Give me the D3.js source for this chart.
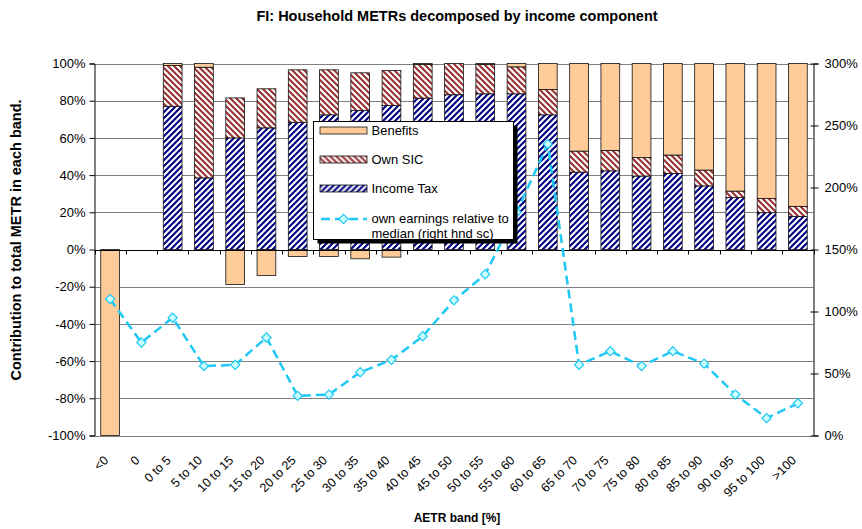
<!DOCTYPE html>
<html><head><meta charset="utf-8">
<script src="https://cdn.jsdelivr.net/npm/d3@7"></script>
<style>body{margin:0;background:#fff} text{font-family:"Liberation Sans",Arial,sans-serif;fill:#000}</style>
</head><body><svg id="c" width="862" height="529"></svg>
<script>
const categories = ["<0","0","0 to 5","5 to 10","10 to 15","15 to 20","20 to 25","25 to 30","30 to 35","35 to 40","40 to 45","45 to 50","50 to 55","55 to 60","60 to 65","65 to 70","70 to 75","75 to 80","80 to 85","85 to 90","90 to 95","95 to 100",">100"];
const incomeTax = [0,0,77,38.5,60,65.4,68.4,72.4,74.7,77.4,81.4,83.2,83.7,83.7,72.4,41.6,42.3,39.5,40.9,34.2,27.9,19.8,17.8];
const ownSIC    = [0,0,21.9,59.5,21.5,21,28.2,24.2,20.3,18.8,18.1,16.8,15.8,14.5,13.6,11.3,10.9,9.9,9.9,8.5,3.5,7.6,5.4];
const benefits  = [-100,0,1.1,2,-18.8,-14,-3.8,-3.8,-5,-4.1,0.5,0,0.5,1.8,14,47.1,46.8,50.6,49.2,57.3,68.6,72.6,76.8];
const earnings  = [110,75,95,56,57,79,32,33,51,61,80,109,130,180,235,57,68,56,68,58,33,14,26];
const leftTicks = [-100,-80,-60,-40,-20,0,20,40,60,80,100];
const rightTicks = [0,50,100,150,200,250,300];
const seriesNames = ["Benefits","Own SIC","Income Tax","own earnings relative to median (right hnd sc)"];

const svg = d3.select("#c");
const L = 94.5, R = 813.5, T = 63.5, B = 435.5;

const x = d3.scaleBand().domain(categories).range([L, R]).paddingInner(0.4).paddingOuter(0.2);
const y = d3.scaleLinear().domain([-100, 100]).range([B, T]);
const y2 = d3.scaleLinear().domain([0, 300]).range([B, T]);

// patterns
const defs = svg.append("defs");
function hatch(id, color, dir) {
  const p = defs.append("pattern").attr("id", id).attr("patternUnits", "userSpaceOnUse")
    .attr("width", 6).attr("height", 6);
  p.append("rect").attr("width", 6).attr("height", 6).attr("fill", "#fff");
  const d = dir === "/" ? "M-1,1 l2,-2 M0,6 l6,-6 M5,7 l2,-2" : "M-1,5 l2,2 M0,0 l6,6 M5,-1 l2,2";
  p.append("path").attr("d", d).attr("stroke", color).attr("stroke-width", 2.1);
}
hatch("itH", "#000080", "/");
hatch("sicH", "#993333", "\\");

// gridlines
svg.append("g").selectAll("line").data(leftTicks).join("line")
  .attr("x1", L).attr("x2", R)
  .attr("y1", d => Math.round(y(d)) + 0.5).attr("y2", d => Math.round(y(d)) + 0.5)
  .attr("stroke", "#808080").attr("stroke-width", 1);

// stacked bars
const rows = categories.map((c, i) => ({cat: c, it: incomeTax[i], sic: ownSIC[i], ben: benefits[i]}));
const stack = d3.stack().keys(["it", "sic", "ben"]).offset(d3.stackOffsetDiverging)(rows);
const fills = {it: "url(#itH)", sic: "url(#sicH)", ben: "#FFCC99"};
svg.append("g").selectAll("g").data(stack).join("g")
  .attr("fill", d => fills[d.key])
  .selectAll("rect").data(d => d.filter(s => Math.abs(s[1] - s[0]) > 0.01)).join("rect")
  .attr("x", d => x(d.data.cat))
  .attr("width", x.bandwidth())
  .attr("y", d => y(Math.max(d[0], d[1])))
  .attr("height", d => Math.abs(y(d[0]) - y(d[1])))
  .attr("stroke", "#111").attr("stroke-width", 0.8);

// axes
const xAxis = svg.append("g").attr("transform", `translate(0,${Math.round(y(0)) + 0.5})`);
xAxis.append("line").attr("x1", L).attr("x2", R).attr("stroke", "#000");
const bounds = d3.range(categories.length + 1).map(i => L + i * x.step());
xAxis.selectAll(".tk").data(bounds).join("line").attr("class", "tk")
  .attr("x1", d => Math.round(d) + 0.5).attr("x2", d => Math.round(d) + 0.5)
  .attr("y1", 0).attr("y2", 4).attr("stroke", "#000");

const yAxis = svg.append("g").attr("transform", `translate(${L},0)`)
  .call(d3.axisLeft(y).tickValues(leftTicks).tickSize(5).tickFormat(d => d + "%"));
yAxis.select(".domain").attr("stroke", "#000");
yAxis.selectAll("text").attr("font-size", 13).attr("font-family", "Liberation Sans, Arial").attr("x", -9);

const y2Axis = svg.append("g").attr("transform", `translate(${R},0)`)
  .call(d3.axisRight(y2).tickValues(rightTicks).tickSize(5).tickFormat(d => d + "%"));
y2Axis.select(".domain").attr("stroke", "#000");
y2Axis.selectAll(".tick line").attr("x1", -3);
y2Axis.selectAll("text").attr("font-size", 13).attr("font-family", "Liberation Sans, Arial").attr("x", 11);

// category labels
svg.append("g").selectAll("text").data(categories).join("text")
  .attr("transform", d => `translate(${x(d) + x.bandwidth() / 2 - 1},461) rotate(-45)`)
  .attr("text-anchor", "end").attr("font-size", 12.5).text(d => d);

// line series
const cx = d => x(d) + x.bandwidth() / 2;
const lineGen = d3.line().x((d, i) => cx(categories[i])).y(d => y2(d));
svg.append("path").datum(earnings).attr("d", lineGen)
  .attr("fill", "none").attr("stroke", "#1EC8F5").attr("stroke-width", 2.5)
  .attr("stroke-dasharray", "9,5");
svg.append("g").selectAll("path").data(earnings).join("path")
  .attr("transform", (d, i) => `translate(${cx(categories[i])},${y2(d)}) rotate(45)`)
  .attr("d", d3.symbol().type(d3.symbolSquare).size(42))
  .attr("fill", "#CCFFFF").attr("stroke", "#1EC8F5").attr("stroke-width", 1.2);

// legend
const lg = svg.append("g").attr("transform", "translate(313.5,121.5)");
lg.append("rect").attr("x", 4).attr("y", 4).attr("width", 200).attr("height", 118).attr("fill", "#000");
lg.append("rect").attr("width", 200).attr("height", 118).attr("fill", "#fff").attr("stroke", "#000");
const sw = [{f: "#FFCC99", y: 9}, {f: "url(#sicH)", y: 38}, {f: "url(#itH)", y: 67}];
sw.forEach((s, i) => {
  lg.append("rect").attr("x", 6.5).attr("y", s.y - 3.5).attr("width", 47).attr("height", 7)
    .attr("fill", s.f).attr("stroke", "#111").attr("stroke-width", 0.8);
  lg.append("text").attr("x", 58).attr("y", s.y + 4.5).attr("font-size", 13).text(seriesNames[i]);
});
lg.append("line").attr("x1", 6.5).attr("x2", 53.5).attr("y1", 97.5).attr("y2", 97.5)
  .attr("stroke", "#1EC8F5").attr("stroke-width", 2.5).attr("stroke-dasharray", "9,5").attr("stroke-dashoffset", -1);
lg.append("path").attr("transform", "translate(30,97.5) rotate(45)")
  .attr("d", d3.symbol().type(d3.symbolSquare).size(42))
  .attr("fill", "#CCFFFF").attr("stroke", "#1EC8F5").attr("stroke-width", 1.2);
const lt = lg.append("text").attr("x", 58).attr("y", 101.5).attr("font-size", 13);
lt.append("tspan").text("own earnings relative to");
lt.append("tspan").attr("x", 58).attr("dy", 14.5).text("median (right hnd sc)");

// titles
svg.append("text").attr("x", 457).attr("y", 21).attr("text-anchor", "middle")
  .attr("font-size", 14.5).attr("font-weight", "bold").text("FI: Household METRs decomposed by income component");
svg.append("text").attr("transform", "translate(21,240) rotate(-90)").attr("text-anchor", "middle")
  .attr("font-size", 14.5).attr("font-weight", "bold").text("Contribution to total METR in each band.");
svg.append("text").attr("x", 457).attr("y", 522).attr("text-anchor", "middle")
  .attr("font-size", 12).attr("font-weight", "bold").text("AETR band [%]");
</script></body></html>
